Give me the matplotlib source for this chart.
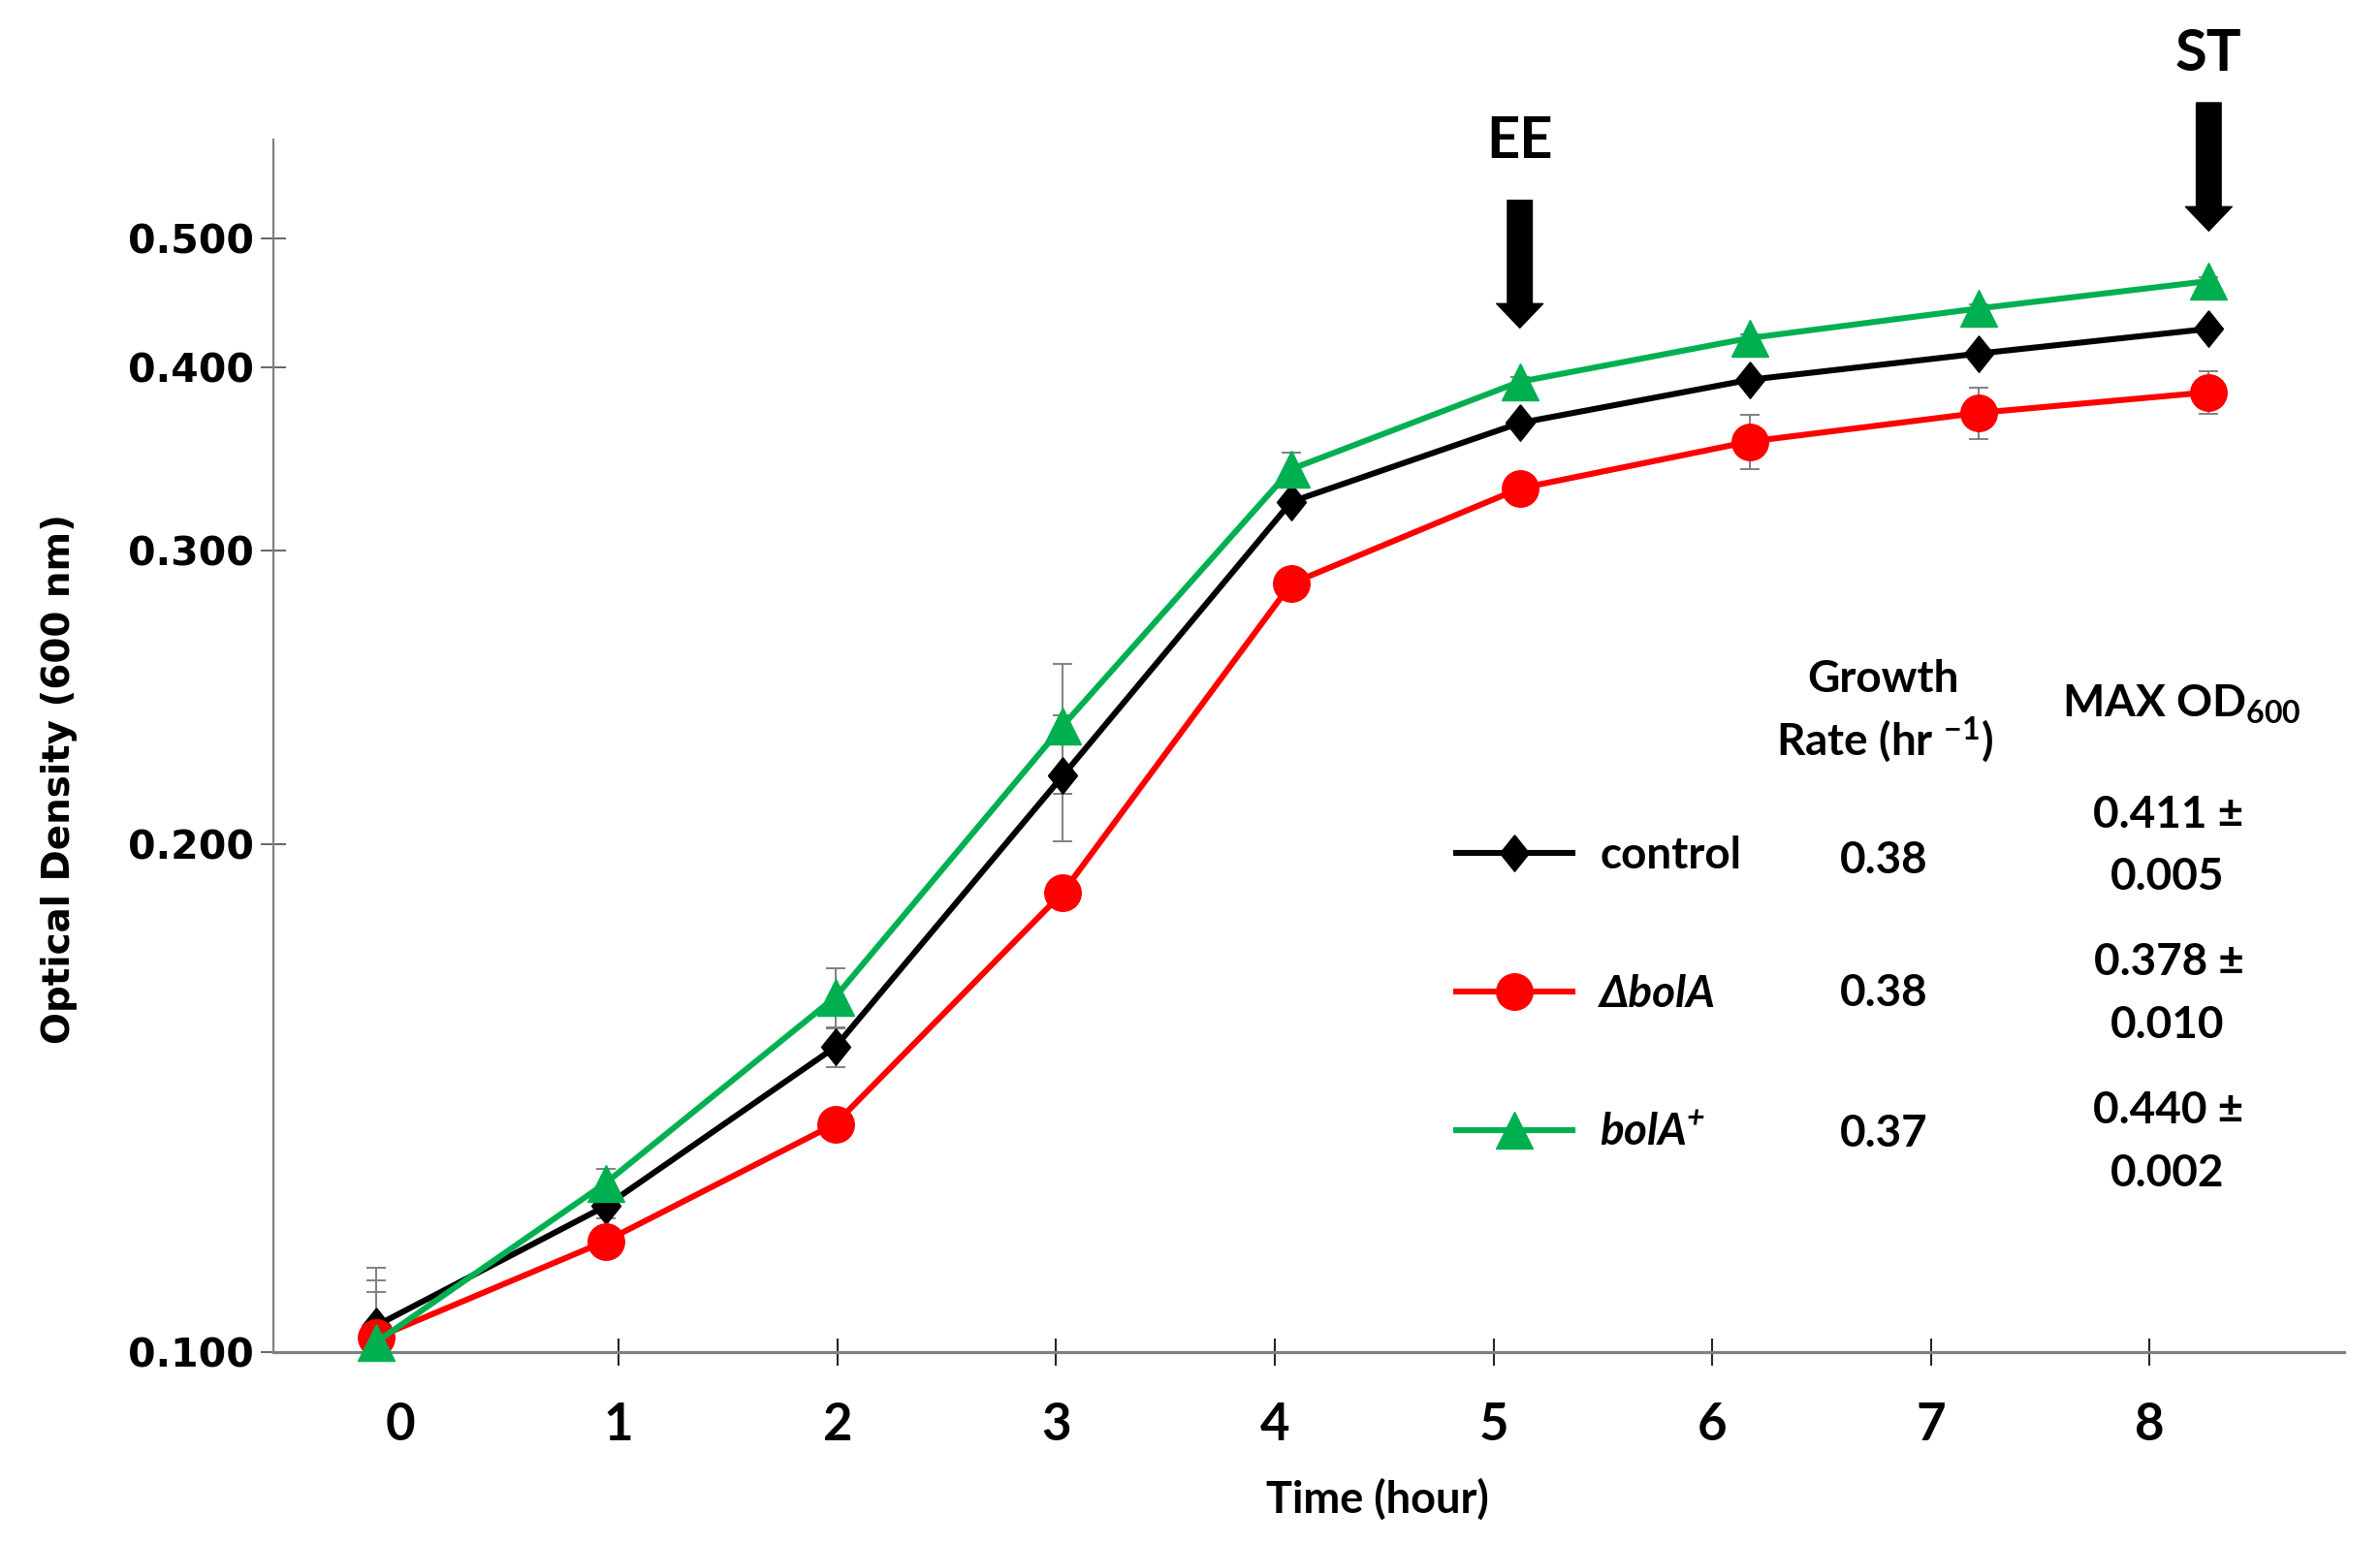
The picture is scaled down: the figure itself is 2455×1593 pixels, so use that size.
import numpy as np
import matplotlib
matplotlib.use('Agg')
import matplotlib.pyplot as plt
from matplotlib import transforms
from matplotlib.ticker import NullLocator

# sampling times (hours) and OD600 readings
time_h = [-0.11, 0.94, 1.99, 3.03, 4.075, 5.12, 6.17, 7.22, 8.27]
control = [0.1036, 0.1220, 0.1516, 0.2198, 0.3239, 0.3667, 0.3925, 0.4100, 0.4279]
control_err = [0.0086, 0.002, 0.004, 0.019, 0.003, 0.003, 0.003, 0.003, 0.003]
bola_del = [0.1019, 0.1163, 0.1365, 0.1872, 0.2866, 0.3308, 0.3561, 0.3726, 0.3849]
bola_del_err = [0.0083, 0.002, 0.002, 0.003, 0.003, 0.004, 0.0152, 0.0148, 0.0129]
bola_plus = [0.1013, 0.1259, 0.1623, 0.2355, 0.3410, 0.3913, 0.4211, 0.4433, 0.4648]
bola_plus_err = [0.0072, 0.0025, 0.0066, 0.021, 0.009, 0.003, 0.003, 0.003, 0.003]

strain_labels = ['control', 'ΔbolA', 'bolA$^{+}$']
growth_rate = ['0.38', '0.38', '0.37']
max_od_mean = ['0.411', '0.378', '0.440']
max_od_sd = ['0.005', '0.010', '0.002']

y_ticks = [0.1, 0.2, 0.3, 0.4, 0.5]
x_ticks = [0, 1, 2, 3, 4, 5, 6, 7, 8]

# the OD axis of the original is log-like but not a pure log; calibrate it
SCALE_VALS = np.array([0.05, 0.1, 0.2, 0.3, 0.4, 0.5, 0.6])
SCALE_POS = np.array([-0.4188, 0.0, 0.4188, 0.6612, 0.8120, 0.9184, 1.0053])


def od_fwd(y):
    y = np.clip(np.asarray(y, dtype=float), 1e-3, None)
    return np.interp(np.log10(y), np.log10(SCALE_VALS), SCALE_POS)


def od_inv(p):
    return 10 ** np.interp(p, SCALE_POS, np.log10(SCALE_VALS))


plt.rcParams['mathtext.default'] = 'regular'
LATO = ['Lato', 'DejaVu Sans']
W, H = 2455, 1593


def fpos(x, y):
    return x / W, 1 - y / H


fig = plt.figure(figsize=(24.55, 15.93), dpi=100)
ax = fig.add_axes([282 / W, 1 - 1394.6 / H, (2418 - 282) / W, (1394.6 - 144.4) / H])

ax.set_yscale('function', functions=(od_fwd, od_inv))
ax.set_xlim(-0.579, 8.889)
ax.set_ylim(0.1, od_inv(1.0))

series = [
    (control, control_err, 'black', [(0, 1), (0.8, 0), (0, -1), (-0.8, 0), (0, 1)], 27),
    (bola_del, bola_del_err, '#ff0000', 'o', 27),
    (bola_plus, bola_plus_err, '#00b050', '^', 28),
]

handles = []
for i, (vals, errs, color, marker, ms) in enumerate(series):
    ax.errorbar(time_h, vals, yerr=errs, fmt='none', ecolor='#808080',
                elinewidth=1.4, capsize=7, capthick=1.4, zorder=2)
    ln, = ax.plot(time_h, vals, color=color, lw=4.4, marker=marker, ms=ms,
                  mfc=color, mec=color, zorder=3 + i, clip_on=False,
                  label=strain_labels[i])
    handles.append(ln)

for side in ['top', 'right']:
    ax.spines[side].set_visible(False)
ax.spines['left'].set_color('#808080')
ax.spines['left'].set_linewidth(1.6)
ax.spines['bottom'].set_color('#808080')
ax.spines['bottom'].set_linewidth(2.3)

ax.set_yticks(y_ticks, ['%.3f' % v for v in y_ticks], fontsize=29.5,
              fontweight='bold', family='DejaVu Sans')
ax.yaxis.set_minor_locator(NullLocator())
ax.tick_params(axis='y', direction='inout', length=19, width=1.3,
               color='#595959', pad=5)

ax.set_xticks(x_ticks, [str(v) for v in x_ticks], fontsize=38,
              fontweight='bold', family=LATO)
ax.xaxis.set_minor_locator(NullLocator())
ax.tick_params(axis='x', direction='inout', length=20, width=1.5,
               color='#262626', pad=27)
ax.xaxis.get_major_ticks()[0].tick1line.set_visible(False)

ax.set_ylabel('Optical Density (600 nm)', fontsize=28, fontweight='bold',
              family='DejaVu Sans')
ax.yaxis.set_label_coords(-0.1035, 0.4732)
ax.yaxis.label.set_va('center')
ax.set_xlabel('Time (hour)', fontsize=32.5, fontweight='bold', family=LATO)
ax.xaxis.label.set_va('baseline')
ax.xaxis.set_label_coords(0.533, -0.1331)

# phase arrows
trans = transforms.blended_transform_factory(ax.transData, ax.transAxes)
for t, top, tip, lab, ty in [(time_h[5], 0.9502, 0.8449, 'EE', 0.9849),
                             (time_h[8], 1.0307, 0.9249, 'ST', 1.0573)]:
    ax.annotate('', xy=(t, tip), xytext=(t, top), xycoords=trans, textcoords=trans,
                arrowprops=dict(facecolor='black', edgecolor='black', width=18.4,
                                headwidth=34.5, headlength=18, shrink=0),
                annotation_clip=False)
    ax.text(t, ty, lab, transform=trans, ha='center', va='baseline',
            fontsize=43, fontweight='bold', family=LATO, clip_on=False)

leg = ax.legend(handles=handles, loc='upper left', bbox_to_anchor=fpos(1502, 862),
                bbox_transform=fig.transFigure, frameon=False,
                prop={'family': LATO, 'weight': 'bold', 'size': 33},
                handlelength=2.62, handletextpad=0.61, labelspacing=2.2,
                borderpad=0, borderaxespad=0)
for txt in leg.get_texts()[1:]:
    txt.set_style('italic')

tkw = dict(ha='center', va='baseline', fontsize=33, fontweight='bold', family=LATO)
fig.text(*fpos(1943, 714), 'Growth', **tkw)
fig.text(*fpos(1944, 780), 'Rate (hr $^{-1}$)', **tkw)
fig.text(*fpos(2250, 740), 'MAX OD$_{600}$', **tkw)

rate_base = [901, 1038, 1183]
mean_base = [853.5, 1006, 1158.8]
sd_base = [917.7, 1071, 1223.7]
for i in range(3):
    fig.text(*fpos(1943, rate_base[i]), growth_rate[i], **tkw)
    fig.text(*fpos(2237, mean_base[i]), max_od_mean[i] + ' ±', **tkw)
    fig.text(*fpos(2236, sd_base[i]), max_od_sd[i], **tkw)

fig.savefig('out.png', dpi=100)
